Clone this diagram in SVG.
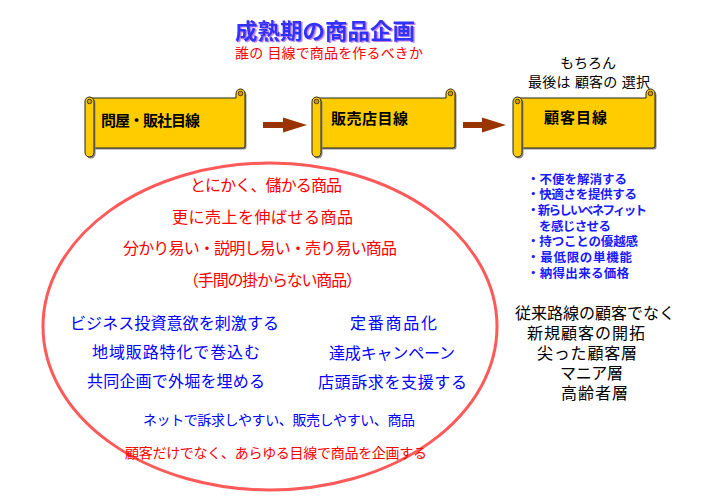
<svg xmlns="http://www.w3.org/2000/svg" width="728" height="503" viewBox="0 0 728 503">
<defs>
  <filter id="titleShadow" x="-5%" y="-20%" width="110%" height="140%">
    <feDropShadow dx="1.5" dy="1" stdDeviation="0.4" flood-color="#9955dd" flood-opacity="0.75"/>
  </filter>
</defs>
<style>
  text { font-family: "Liberation Sans", "Noto Sans CJK JP", sans-serif; }
  .title { font-size: 22px; font-weight: bold; fill: #3333ff; }
  .sub { font-size: 14px; fill: #ff0000; }
  .note { font-size: 14px; fill: #000000; }
  .label { font-size: 15px; font-weight: bold; fill: #000000; }
  .body { fill: #ffcc00; stroke: #222222; stroke-width: 1; }
  .shadow { fill: #8a8a8a; }
  .curl { fill: #cc9900; stroke: #222222; stroke-width: 0.8; }
  .arrow { fill: #993300; }
  .red16 { font-size: 16px; fill: #ff0000; }
  .blue16 { font-size: 16px; fill: #0000ff; }
  .red14 { font-size: 14px; fill: #ff0000; }
  .blue14 { font-size: 14px; fill: #0000ff; }
  .list { font-size: 12.5px; font-weight: bold; fill: #1a1aff; }
  .black16 { font-size: 16px; fill: #000000; }
</style>

<g id="title">
  <text class="title" x="235" y="38.5" textLength="180" lengthAdjust="spacingAndGlyphs" filter="url(#titleShadow)">成熟期の商品企画</text>
  <text class="sub" x="235" y="58.3" textLength="188">誰の 目線で商品を作るべきか</text>
</g>

<g id="note-top">
  <text class="note" x="588" y="68.3" text-anchor="middle">もちろん</text>
  <text class="note" x="528" y="87.3" textLength="122">最後は 顧客の 選択</text>
</g>

<g id="scroll1">
  <path class="shadow" transform="translate(1.5,1.5)" d="M90,98 H236 V93.5 A4.5,4.5 0 0 1 245,93.5 V146 Q245,148 243,148 H90 Z"/>
  <path class="body" d="M90,98 H236 V93.5 A4.5,4.5 0 0 1 245,93.5 V146 Q245,148 243,148 H90 Z"/>
  <circle class="curl" cx="240.5" cy="93.5" r="2.3"/>
  <rect class="shadow" x="86.5" y="98.5" width="9" height="60" rx="4.5"/>
  <rect class="body" x="85" y="97" width="9" height="60" rx="4.5"/>
  <circle class="curl" cx="89.5" cy="101.5" r="2.3"/>
  <text class="label" x="101" y="125.7" textLength="99">問屋・販社目線</text>
</g>

<g id="scroll2">
  <path class="shadow" transform="translate(1.5,1.5)" d="M317,98 H446 V93.5 A4.5,4.5 0 0 1 455,93.5 V146 Q455,148 453,148 H317 Z"/>
  <path class="body" d="M317,98 H446 V93.5 A4.5,4.5 0 0 1 455,93.5 V146 Q455,148 453,148 H317 Z"/>
  <circle class="curl" cx="450.5" cy="93.5" r="2.3"/>
  <rect class="shadow" x="313.5" y="98.5" width="9" height="60" rx="4.5"/>
  <rect class="body" x="312" y="97" width="9" height="60" rx="4.5"/>
  <circle class="curl" cx="316.5" cy="101.5" r="2.3"/>
  <text class="label" x="331" y="124" textLength="77">販売店目線</text>
</g>

<g id="scroll3">
  <path class="shadow" transform="translate(1.5,1.5)" d="M518,98 H646 V93.5 A4.5,4.5 0 0 1 655,93.5 V146 Q655,148 653,148 H518 Z"/>
  <path class="body" d="M518,98 H646 V93.5 A4.5,4.5 0 0 1 655,93.5 V146 Q655,148 653,148 H518 Z"/>
  <circle class="curl" cx="650.5" cy="93.5" r="2.3"/>
  <rect class="shadow" x="514.5" y="98.5" width="9" height="60" rx="4.5"/>
  <rect class="body" x="513" y="97" width="9" height="60" rx="4.5"/>
  <circle class="curl" cx="517.5" cy="101.5" r="2.3"/>
  <text class="label" x="544" y="122.7" textLength="63">顧客目線</text>
</g>

<g id="connectors">
  <path class="arrow" d="M263,122 H283 V117.5 L307,125 L283,132.5 V128 H263 Z"/>
  <path class="arrow" d="M463,122 H482 V117.5 L506,125 L482,132.5 V128 H463 Z"/>
</g>

<g id="ellipse-group">
  <ellipse cx="270" cy="326.5" rx="227" ry="163.5" fill="none" stroke="#ff5a5a" stroke-width="3"/>
  <text class="red16" x="190" y="191" textLength="152">とにかく、儲かる商品</text>
  <text class="red16" x="172" y="223" textLength="181">更に売上を伸ばせる商品</text>
  <text class="red16" x="123" y="254" textLength="274">分かり易い・説明し易い・売り易い商品</text>
  <text class="red16" x="183" y="286" textLength="179">（手間の掛からない商品）</text>
  <text class="blue16" x="70" y="329" textLength="209">ビジネス投資意欲を刺激する</text>
  <text class="blue16" x="350" y="329" textLength="87">定番商品化</text>
  <text class="blue16" x="92" y="358" textLength="168">地域販路特化で巻込む</text>
  <text class="blue16" x="329" y="359" textLength="126">達成キャンペーン</text>
  <text class="blue16" x="87" y="387" textLength="178">共同企画で外堀を埋める</text>
  <text class="blue16" x="318" y="388" textLength="149">店頭訴求を支援する</text>
  <text class="blue14" x="143" y="425.3" textLength="272">ネットで訴求しやすい、販売しやすい、商品</text>
  <text class="red14" x="125" y="458.3" textLength="302">顧客だけでなく、あらゆる目線で商品を企画する</text>
</g>

<g id="benefit-list">
  <text class="list" x="527" y="183.6" textLength="100">・不便を解消する</text>
  <text class="list" x="527" y="198.6" textLength="110">・快適さを提供する</text>
  <text class="list" x="527" y="214.6" textLength="120">・新らしいベネフィット</text>
  <text class="list" x="539" y="230.6" textLength="72">を感じさせる</text>
  <text class="list" x="527" y="245.6" textLength="111">・持つことの優越感</text>
  <text class="list" x="527" y="261.6" textLength="105">・最低限の単機能</text>
  <text class="list" x="527" y="277.6" textLength="102">・納得出来る価格</text>
</g>

<g id="target-list">
  <text class="black16" x="515" y="319" textLength="160">従来路線の顧客でなく</text>
  <text class="black16" x="527" y="339" textLength="118">新規顧客の開拓</text>
  <text class="black16" x="537" y="359" textLength="100">尖った顧客層</text>
  <text class="black16" x="560" y="379" textLength="63">マニア層</text>
  <text class="black16" x="561" y="399" textLength="67">高齢者層</text>
</g>
</svg>
